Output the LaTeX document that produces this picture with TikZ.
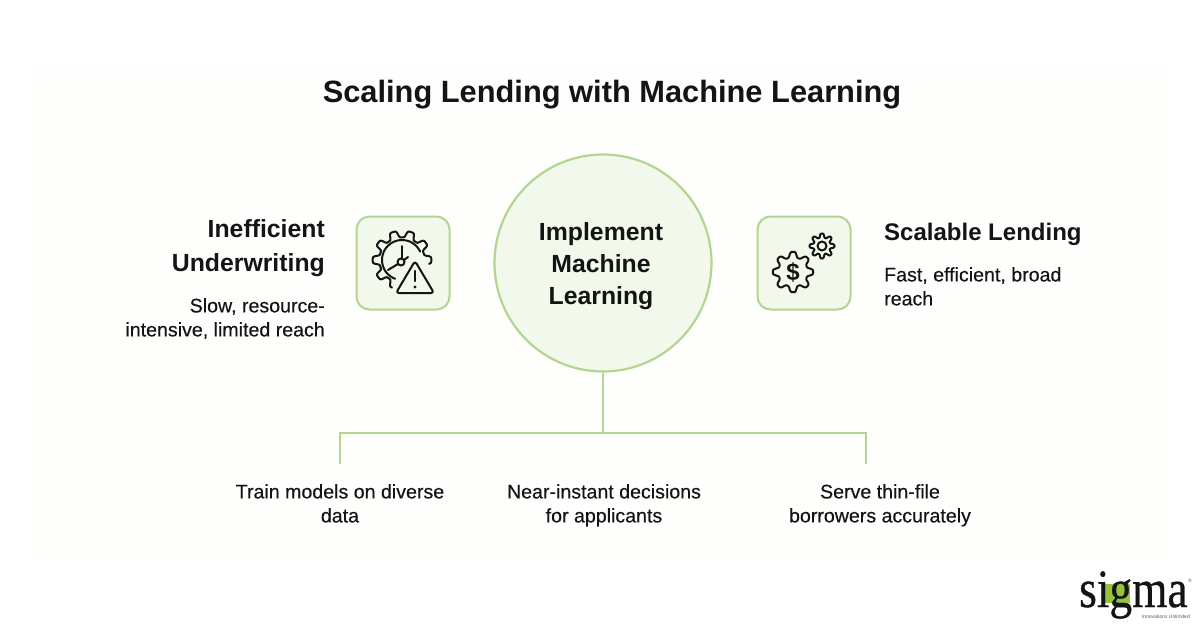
\documentclass[tikz,border=0pt]{standalone}
\usepackage{fontspec}
\setmainfont{Liberation Sans}
\newfontfamily\logofont[FakeBold=0.6]{Liberation Serif}
\newfontfamily\bodyfont[FakeBold=0.3]{Liberation Sans}
\definecolor{lgreen}{HTML}{B2D68F}
\definecolor{pgreen}{HTML}{F2F8EB}
\definecolor{ink}{HTML}{141414}
\definecolor{panel}{HTML}{FEFEFD}
\definecolor{logogreen}{HTML}{96C23C}
\tikzset{
  x=1pt,y=-1pt,
  title/.style={font=\fontsize{30.8}{36}\selectfont\bfseries,text=ink,anchor=center,inner sep=0},
  head/.style={font=\fontsize{24.8}{34}\selectfont\bfseries,text=ink,inner sep=0},
  headr/.style={font=\fontsize{24}{34}\selectfont\bfseries,text=ink,inner sep=0},
  body/.style={font=\fontsize{19.6}{24}\selectfont\bodyfont,text=ink,inner sep=0},
  leaf/.style={body,align=center,anchor=north},
  conn/.style={draw=lgreen,line width=2.2pt},
  iconbox/.style={draw=lgreen,fill=pgreen,line width=2pt,rounded corners=13pt,minimum width=93pt,minimum height=93pt,inner sep=0},
  icon/.style={draw=ink,line width=2pt,line cap=round,line join=round},
  logotext/.style={inner sep=0,anchor=base west,text=ink,font=\fontsize{54}{54}\selectfont\logofont},
}
\begin{document}
\begin{tikzpicture}
\useasboundingbox (0,0) rectangle (1200,627);
\fill[white] (0,0) rectangle (1200,627);
\fill[panel] (30,68) rectangle (1170,562);
\node[title] (t) at (612,95) {Scaling Lending with Machine Learning};
% connectors
\coordinate (hub) at (603,433);
\coordinate (lf) at (340,464);
\coordinate (rt) at (866,464);
\node[circle,draw=lgreen,fill=pgreen,line width=2.2pt,minimum size=217pt,inner sep=0] (c) at (603,263) {};
\node[inner sep=0,font=\fontsize{24.8}{32}\selectfont\bfseries,text=ink,align=center] (ct) at (601,266) {Implement\\Machine\\Learning};
\draw[conn] (c.south) -- (hub);
\draw[conn] (lf) |- (hub) -| (rt);
% boxes
\node[iconbox] (b1) at (403,263) {};
\node[iconbox] (b2) at (804,263) {};
% left icon
\draw[icon] plot[smooth,samples=130,domain=-8:250] ({402+(26+3.4*tanh(2.5*cos(10*\x)))*cos(\x)},{260-(26+3.4*tanh(2.5*cos(10*\x)))*sin(\x)});
\draw[icon] plot[smooth,samples=30,domain=25:250] ({402+20*cos(\x)},{260-20*sin(\x)});
\draw[icon] (402,246) -- (402,258);
\draw[icon] (401,262) circle (3.5);
\draw[icon] (398,264) -- (388,270);
\draw[icon] (404,260) -- (408,257);
\draw[icon,fill=pgreen,rounded corners=3pt] (415,261) -- (434,293) -- (396,293) -- cycle;
\draw[icon,line width=2.4pt] (415,271) -- (415,281);
\fill[ink] (415,287) circle (1.7);
% right icon: big gear + small gear
\draw[icon] plot[smooth cycle,samples=97,domain=0:356.25] ({793+(17.5+3*tanh(1.6*cos(8*\x)))*cos(\x)},{272-(17.5+3*tanh(1.6*cos(8*\x)))*sin(\x)});
\node[inner sep=0,text=ink,font=\fontsize{24}{24}\selectfont\bfseries] (d) at (793,272) {\$};
\draw[icon] plot[smooth cycle,samples=73,domain=0:355] ({822+(10.5+2.2*tanh(1.6*cos(8*\x)))*cos(\x)},{246-(10.5+2.2*tanh(1.6*cos(8*\x)))*sin(\x)});
\draw[icon] (822,246) circle (4.5);
% side texts
\node[head,align=right,anchor=north east] (h1) at (325,219) {Inefficient\\Underwriting};
\node[body,align=right,anchor=north east] (s1) at (325,298) {Slow, resource-\\intensive, limited reach};
\node[headr,align=left,anchor=north west] (h2) at (884,223) {Scalable Lending};
\node[body,align=left,anchor=north west] (s2) at (884,267) {Fast, efficient, broad\\reach};
% leaves
\node[leaf] (l1) at (340,484) {Train models on diverse\\data};
\node[leaf] (l2) at (604,484) {Near-instant decisions\\for applicants};
\node[leaf] (l3) at (880,484) {Serve thin-file\\borrowers accurately};
% logo
\fill[logogreen] (1105,584) rectangle (1130,603);
\node[logotext] (lg) at (1079,607) {\scalebox{0.84}[1]{sig}};
\node[logotext] (lm) at (1132,607) {\scalebox{0.84}[1]{ma}};
\node[inner sep=0,anchor=base east,text=ink!70,font=\fontsize{5}{6}\selectfont] (lt) at (1190,618) {Innovations Unlimited};
\node[inner sep=0,text=ink!70,font=\fontsize{5}{6}\selectfont] (lr) at (1190,581) {®};
\end{tikzpicture}
\end{document}
